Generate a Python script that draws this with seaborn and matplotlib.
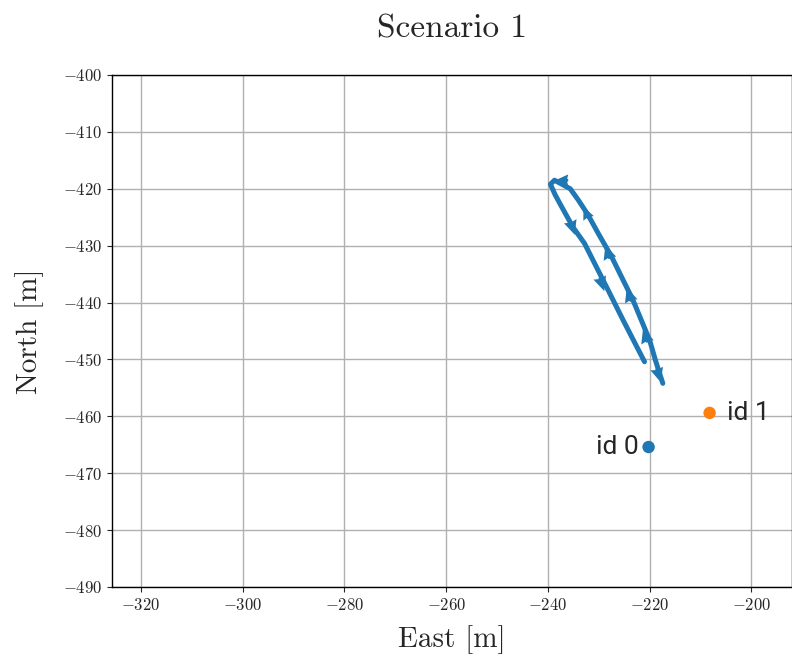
import seaborn as sns
import matplotlib.pyplot as plt
import numpy as np
import pandas as pd

# trajectory of the vehicle (East, North) in metres
east_path = [-217.4, -218.8, -220.0, -223.3, -227.5, -230.0, -232.1, -234.0, -235.6, -238.7,
             -239.5, -238.6, -237.7, -235.1, -232.8, -228.5, -225.2, -221.0]
north_path = [-454.2, -450.3, -446.6, -439.5, -431.9, -428.0, -424.6, -422.0, -420.0, -418.5,
              -419.2, -421.0, -422.5, -426.7, -429.6, -437.2, -443.1, -450.4]

# heading arrows along the path: (east, north, d_east, d_north)
arrow_east = [-218.6, -220.4, -223.6, -227.8, -232.0, -236.0, -235.6, -229.8]
arrow_north = [-451.6, -447.0, -439.8, -432.3, -425.2, -418.5, -425.7, -435.6]
arrow_de = [0.8, -0.9, -0.9, -0.9, -1.0, -2.5, 0.9, 0.9]
arrow_dn = [-2.4, 2.4, 2.4, 2.4, 2.0, 0.0, -2.4, -2.4]

# agents
ids = ["id 0", "id 1"]
id_east = [-220.2, -208.2]
id_north = [-465.4, -459.4]

sns.set_style("ticks")
plt.rcParams['font.family'] = 'serif'
plt.rcParams['font.serif'] = ['cmr10']
plt.rcParams['mathtext.fontset'] = 'cm'
plt.rcParams['axes.formatter.use_mathtext'] = True
plt.rcParams['axes.unicode_minus'] = True

fig = plt.figure(figsize=(7.92, 6.59), dpi=100)
ax = fig.add_axes([0.1414, 0.1093, 0.8586, 0.7769])

blue = '#1f77b4'
orange = '#ff7f0e'

traj = pd.DataFrame({'East': east_path, 'North': north_path})
sns.lineplot(data=traj, x='East', y='North', sort=False, color=blue,
             linewidth=3.6, ax=ax, zorder=3)
ax.quiver(arrow_east, arrow_north, arrow_de, arrow_dn, color=blue,
          angles='xy', scale_units='xy', scale=1.0, width=0.005,
          headwidth=4.4, headlength=4.8, headaxislength=4.4, zorder=4)

pts = pd.DataFrame({'East': id_east, 'North': id_north, 'id': ids})
sns.scatterplot(data=pts, x='East', y='North', hue='id',
                palette=[blue, orange], s=80, legend=False, ax=ax, zorder=5,
                edgecolor='none')
ax.text(id_east[0] - 2.0, id_north[0], ids[0], ha='right', va='center',
        fontsize=19, family='Roboto')
ax.text(id_east[1] + 3.5, id_north[1], ids[1], ha='left', va='center',
        fontsize=19, family='Roboto')

ax.set_xlim(-325.7, -192.0)
ax.set_ylim(-490, -400)
ax.set_xticks([-320, -300, -280, -260, -240, -220, -200])
ax.set_yticks(np.arange(-490, -399, 10))
ax.grid(True, color='#b0b0b0', linewidth=1.0)
ax.tick_params(axis='both', labelsize=12)
for s in ax.spines.values():
    s.set_linewidth(1.0)
    s.set_color('black')

ax.set_xlabel('East [m]', fontsize=21, labelpad=9)
ax.set_ylabel('North [m]', fontsize=21, labelpad=14)
ax.set_title('Scenario 1', fontsize=24, pad=27)

fig.savefig('out.png', dpi=100)
